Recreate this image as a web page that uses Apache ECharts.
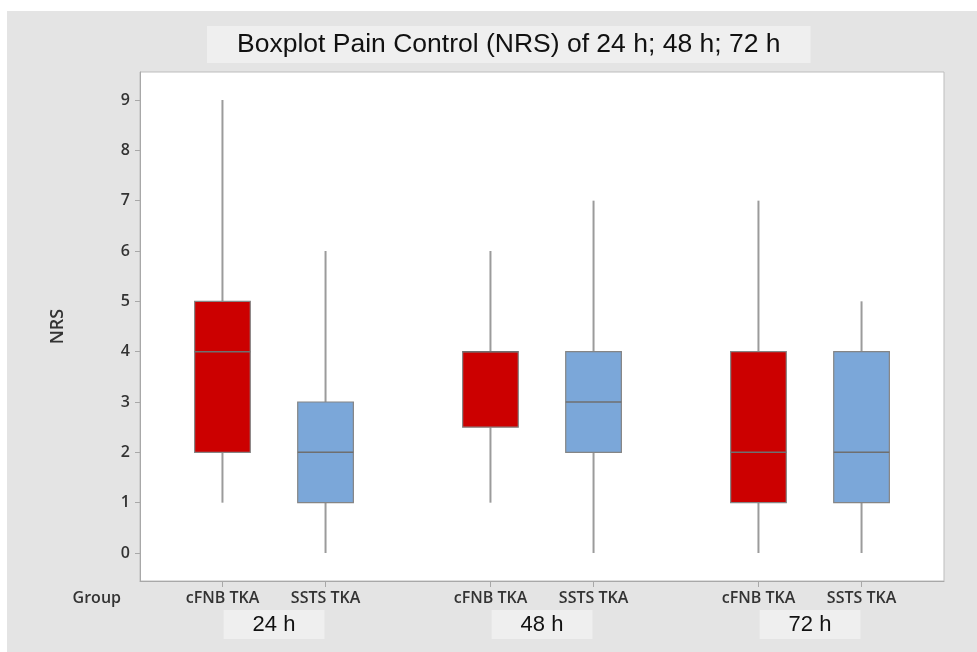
<!DOCTYPE html>
<html>
<head>
<meta charset="utf-8">
<title>Boxplot Pain Control</title>
<script src="https://cdn.jsdelivr.net/npm/echarts@6/dist/echarts.min.js"></script>
<style>
  html, body { margin: 0; padding: 0; background: #fff; }
  #main { position: absolute; left: 7px; top: 11px; width: 970px; height: 641px; background: #e4e4e4; }
</style>
</head>
<body>
<div id="main"></div>
<script>
// x positions of each box on the value axis
var positions = [1, 2, 3.6, 4.6, 6.2, 7.2];
var groupLabels = ['cFNB TKA', 'SSTS TKA', 'cFNB TKA', 'SSTS TKA', 'cFNB TKA', 'SSTS TKA'];
var timeLabels = ['24 h', '48 h', '72 h'];
var timePositions = [1.5, 4.1, 6.7];
var yTicks = [0, 1, 2, 3, 4, 5, 6, 7, 8, 9];

// min, q1, median, q3, max
var cfnbStats = [
  [1, 2, 4, 5, 9],
  [1, 2.5, 4, 4, 6],
  [0, 1, 2, 4, 7]
];
var sstsStats = [
  [0, 1, 2, 3, 6],
  [0, 2, 3, 4, 7],
  [0, 1, 2, 4, 5]
];

var redColor = '#cc0000';
var blueColor = '#7ba7d9';

var myChart = echarts.init(document.getElementById('main'));

function boxData(stats, offset) {
  return stats.map(function (s, i) {
    return [positions[i * 2 + offset]].concat(s);
  });
}

function renderBox(params, api) {
  var x = api.value(0);
  var pMin = api.coord([x, api.value(1)]);
  var pQ1 = api.coord([x, api.value(2)]);
  var pMed = api.coord([x, api.value(3)]);
  var pQ3 = api.coord([x, api.value(4)]);
  var pMax = api.coord([x, api.value(5)]);
  var w = api.size([0.54, 0])[0];
  var color = api.visual('color');
  return {
    type: 'group',
    children: [
      { type: 'line', shape: { x1: pMin[0], y1: pMin[1], x2: pQ1[0], y2: pQ1[1] },
        style: { stroke: '#9b9b9b', lineWidth: 2 } },
      { type: 'line', shape: { x1: pQ3[0], y1: pQ3[1], x2: pMax[0], y2: pMax[1] },
        style: { stroke: '#9b9b9b', lineWidth: 2 } },
      { type: 'rect', shape: { x: pQ3[0] - w / 2, y: pQ3[1], width: w, height: pQ1[1] - pQ3[1] },
        style: { fill: color, stroke: '#858585', lineWidth: 1.2 } },
      { type: 'line', shape: { x1: pMed[0] - w / 2, y1: pMed[1], x2: pMed[0] + w / 2, y2: pMed[1] },
        style: { stroke: '#6f6f6f', lineWidth: 1.5 } }
    ]
  };
}

var option = {
  animation: false,
  title: {
    text: 'Boxplot Pain Control (NRS) of 24 h; 48 h; 72 h',
    left: 200,
    top: 15,
    backgroundColor: '#efefef',
    padding: [5, 30, 5, 30],
    textStyle: { fontFamily: 'Liberation Sans, Arial', fontWeight: 'normal', fontSize: 26.5, color: '#111' }
  },
  grid: {
    left: 133, top: 61, right: 33, bottom: 71,
    show: true, backgroundColor: '#ffffff', borderColor: '#bdbdbd', borderWidth: 1
  },
  xAxis: [{
    type: 'value',
    min: 0.2, max: 8.0,
    splitLine: { show: false },
    axisLine: { show: true, onZero: false, lineStyle: { color: '#a8a8a8' } },
    axisTick: { show: true, length: 6, lineStyle: { color: '#a8a8a8' }, customValues: positions },
    axisLabel: {
      customValues: positions,
      formatter: function (v) { return groupLabels[positions.indexOf(v)]; },
      margin: 9,
      fontFamily: 'Open Sans', fontWeight: 600, fontSize: 16, color: '#333'
    },
    name: 'Group',
    nameLocation: 'start',
    nameGap: 19,
    nameTextStyle: { fontFamily: 'Open Sans', fontWeight: 600, fontSize: 16, color: '#333',
      verticalAlign: 'top', padding: [9, 0, 0, 0] }
  }, {
    type: 'value',
    position: 'bottom',
    min: 0.2, max: 8.0,
    splitLine: { show: false },
    axisLine: { show: false, onZero: false },
    axisTick: { show: false },
    axisLabel: {
      customValues: timePositions,
      formatter: function (v) { return timeLabels[timePositions.indexOf(v)]; },
      margin: 29,
      backgroundColor: '#efefef',
      padding: [4, 29, 3, 29],
      fontFamily: 'Liberation Sans, Arial', fontSize: 22, color: '#111'
    }
  }],
  yAxis: {
    type: 'value',
    min: -0.556, max: 9.556,
    splitLine: { show: false },
    axisLine: { show: true, onZero: false, lineStyle: { color: '#a8a8a8' } },
    axisTick: { show: true, length: 5, lineStyle: { color: '#a8a8a8' }, customValues: yTicks },
    axisLabel: {
      customValues: yTicks,
      margin: 10,
      fontFamily: 'Open Sans', fontWeight: 600, fontSize: 16, color: '#333'
    },
    name: 'NRS',
    nameLocation: 'middle',
    nameGap: 73,
    nameTextStyle: { fontFamily: 'Open Sans', fontWeight: 600, fontSize: 18, color: '#333' }
  },
  series: [{
    name: 'cFNB TKA',
    type: 'custom',
    renderItem: renderBox,
    itemStyle: { color: redColor },
    encode: { x: 0, y: [1, 2, 3, 4, 5] },
    data: boxData(cfnbStats, 0)
  }, {
    name: 'SSTS TKA',
    type: 'custom',
    renderItem: renderBox,
    itemStyle: { color: blueColor },
    encode: { x: 0, y: [1, 2, 3, 4, 5] },
    data: boxData(sstsStats, 1)
  }]
};

myChart.setOption(option);
</script>
</body>
</html>
